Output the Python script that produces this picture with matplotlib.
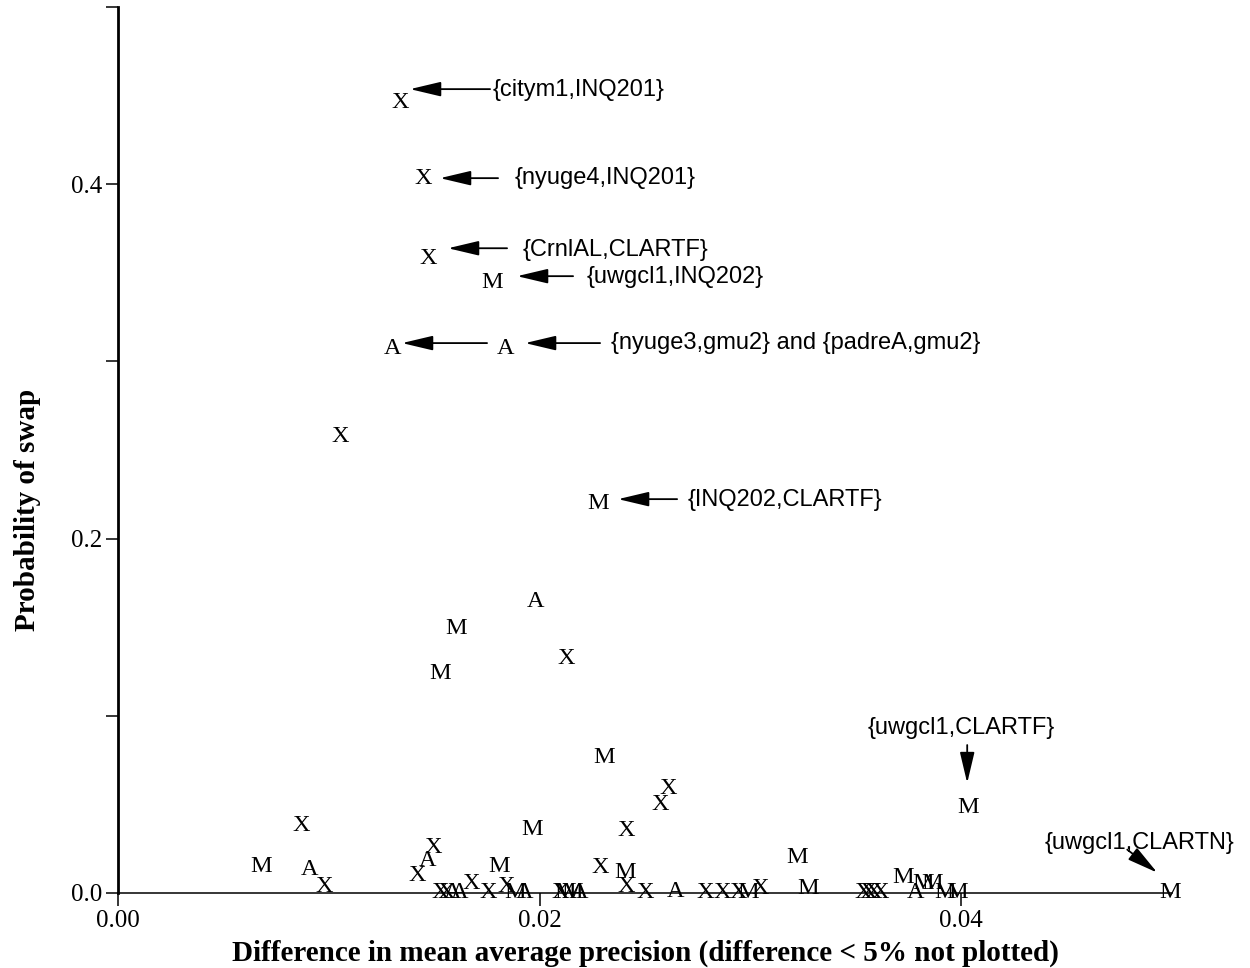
import matplotlib
matplotlib.use('Agg')
import matplotlib.pyplot as plt
from matplotlib.transforms import offset_copy

# points drawn as letters X / A / M
x_X = [0.013381, 0.014472, 0.014709, 0.010534, 0.021258, 0.026097, 0.025718,
       0.008683, 0.024104, 0.014947, 0.009775, 0.014187, 0.015279, 0.015563,
       0.016750, 0.017556, 0.018410, 0.020973, 0.022871, 0.024104, 0.025006,
       0.027853, 0.028660, 0.029419, 0.030463, 0.035350, 0.035587, 0.035824,
       0.036157]
y_X = [0.4463, 0.4034, 0.3582, 0.2578, 0.1326, 0.0592, 0.0502,
       0.0378, 0.0355, 0.0254, 0.0039, 0.0096, 0.0002, 0.0002,
       0.0056, 0.0002, 0.0034, 0.0002, 0.0141, 0.0034, 0.0002,
       0.0002, 0.0002, 0.0002, 0.0028, 0.0002, 0.0002, 0.0002,
       0.0002]

x_A = [0.013001, 0.018363, 0.019787, 0.009063, 0.014662, 0.015848, 0.016180,
       0.019265, 0.021874, 0.026429, 0.037817]
y_A = [0.3075, 0.3075, 0.1647, 0.0135, 0.0186, 0.0002, 0.0002,
       0.0002, 0.0002, 0.0011, 0.0002]

x_M = [0.017746, 0.022776, 0.016038, 0.015279, 0.023061, 0.040332, 0.019644,
       0.006785, 0.018078, 0.018837, 0.021210, 0.021542, 0.024057, 0.029893,
       0.032218, 0.032740, 0.037248, 0.038197, 0.038624, 0.039241, 0.039810,
       0.049917]
y_M = [0.3447, 0.2200, 0.1495, 0.1241, 0.0762, 0.0485, 0.0361,
       0.0152, 0.0147, 0.0002, 0.0002, 0.0002, 0.0118, 0.0002,
       0.0203, 0.0028, 0.0085, 0.0056, 0.0056, 0.0002, 0.0002,
       0.0002]

# label, letter, index, arrow tip / tail / text offsets (pixels), text alignment
notes = [
    ('{citym1,INQ201}', 'X', 0, (10, 13), (80, 0), (83, -1), 'left'),
    ('{nyuge4,INQ201}', 'X', 1, (17, 0), (58, 0), (75, 0), 'left'),
    ('{CrnlAL,CLARTF}', 'X', 2, (20, 10), (59, 0), (75, -2), 'left'),
    ('{uwgcl1,INQ202}', 'M', 0, (25, 6), (56, 0), (70, -1), 'left'),
    ('', 'A', 0, (10, 5), (85, 0), (0, 0), 'left'),
    ('{nyuge3,gmu2} and {padreA,gmu2}', 'A', 1, (20, 5), (75, 0), (86, 0), 'left'),
    ('{INQ202,CLARTF}', 'M', 1, (20, 4), (59, 0), (70, -1), 'left'),
    ('{uwgcl1,CLARTF}', 'M', 5, (-1, 24), (0, 38), (-6, 55), 'center'),
    ('{uwgcl1,CLARTN}', 'M', 21, (-13, 20), (-30, 23), (-18, 30), 'center'),
]

series = {'X': (x_X, y_X), 'A': (x_A, y_A), 'M': (x_M, y_M)}

fig = plt.figure(figsize=(12.5, 9.68), dpi=100)
ax = fig.add_axes([0.0944, 0.0775, 0.8432, 0.9153])

for letter, (xs, ys) in series.items():
    for x, y in zip(xs, ys):
        ax.text(x, y, letter, ha='center', va='center', fontsize=17.5,
                family='Liberation Serif')

for label, letter, i, tip, tail, toff, ha in notes:
    px = series[letter][0][i]
    py = series[letter][1][i]
    tip_tr = offset_copy(ax.transData, fig=fig, x=tip[0], y=tip[1], units='dots')
    ax.annotate('', xy=(px, py), xycoords=tip_tr,
                xytext=tail, textcoords='offset pixels',
                arrowprops=dict(arrowstyle='-|>,head_length=1.9,head_width=0.45',
                                mutation_scale=10, color='black', lw=1.3,
                                shrinkA=0, shrinkB=0))
    if label:
        txt_tr = offset_copy(ax.transData, fig=fig, x=tip[0] + toff[0],
                             y=tip[1] + toff[1], units='dots')
        ax.text(px, py, label, transform=txt_tr, ha=ha, va='center',
                fontsize=17, family='Liberation Sans')

ax.set_xlim(0, 0.05)
ax.set_ylim(0, 0.5)
ax.set_xticks([0.0, 0.02, 0.04])
ax.set_xticklabels(['0.00', '0.02', '0.04'])
ax.set_yticks([0.0, 0.2, 0.4])
ax.set_yticklabels(['0.0', '0.2', '0.4'])
ax.set_yticks([0.1, 0.3, 0.5], minor=True)

for s in ['top', 'right']:
    ax.spines[s].set_visible(False)
ax.spines['left'].set_linewidth(2.0)
ax.spines['bottom'].set_linewidth(1.1)
ax.spines['left'].set_zorder(0)
ax.spines['bottom'].set_zorder(0)
ax.tick_params(axis='both', which='both', direction='out', length=9, width=1.1)
ax.tick_params(axis='y', pad=2)
ax.tick_params(axis='x', pad=3)
for t in ax.get_xticklabels() + ax.get_yticklabels():
    t.set_family('Liberation Serif')
    t.set_fontsize(18)

ax.set_xlabel('Difference in mean average precision (difference < 5% not plotted)',
              family='Liberation Serif', fontweight='bold', fontsize=21)
ax.xaxis.label.set_va('center')
ax.xaxis.set_label_coords(0.5, -0.0677)
ax.set_ylabel('Probability of swap', family='Liberation Serif',
              fontweight='bold', fontsize=21)
ax.yaxis.label.set_va('center')
ax.yaxis.set_label_coords(-0.0863, 0.432)

fig.savefig('out.png', dpi=100)
